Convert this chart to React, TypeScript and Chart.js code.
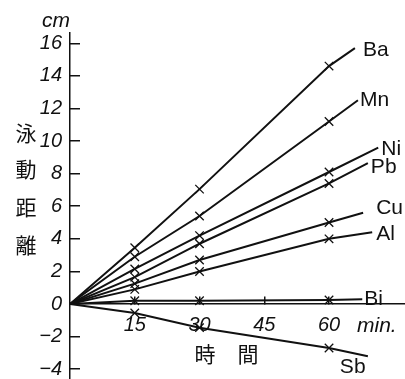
import React, { useEffect, useRef } from 'react';
import { Chart, registerables } from 'chart.js';

Chart.register(...registerables);

// ---- data ----
const elements = ['Ba', 'Mn', 'Ni', 'Pb', 'Cu', 'Al', 'Bi', 'Sb'];
const sampleTimes = [0, 15, 30, 60];
const baValues = [0, 3.45, 7.05, 14.6];
const mnValues = [0, 2.9, 5.4, 11.2];
const niValues = [0, 2.15, 4.2, 8.1];
const pbValues = [0, 1.65, 3.7, 7.4];
const cuValues = [0, 1.25, 2.7, 5.0];
const alValues = [0, 0.9, 2.0, 4.0];
const biValues = [0, 0.2, 0.2, 0.25];
const sbValues = [0, -0.55, -1.45, -2.7];
const seriesValues = [baValues, mnValues, niValues, pbValues, cuValues, alValues, biValues, sbValues];
// extension of each line past the last measurement
const lineEndTimes = [66, 66.7, 71.4, 69, 67.9, 70, 67.7, 69];
const lineEndValues = [15.7, 12.5, 9.6, 8.65, 5.6, 4.4, 0.3, -3.2];
const xTicks = [15, 30, 45, 60];
const yTicks = [-4, -2, 0, 2, 4, 6, 8, 10, 12, 14, 16];
const xUnit = 'min.';
const yUnit = 'cm';
const xTitle = ['時', '間'];
const yTitle = ['泳', '動', '距', '離'];

// ---- styling / layout (not data) ----
const ink = '#111';
const narrow = '"Liberation Sans Narrow", "Liberation Sans", sans-serif';
const cjk = '"Noto Sans CJK JP", "Noto Sans CJK SC", sans-serif';
const labelOffsets = [[8, 2], [2, 0], [3, 2], [3, 4], [13, -5], [4, 2], [2, 0], [-28, 11]];

const fmt = (v: number) => (v < 0 ? '\u2212' + Math.abs(v) : String(v));

const textPlugin = {
  id: 'textPlugin',
  afterDatasetsDraw(chart: any) {
    const ctx = chart.ctx;
    const area = chart.chartArea;
    const ys = chart.scales.y;
    ctx.save();
    ctx.fillStyle = ink;
    // element labels at line ends
    ctx.font = `21px ${narrow}`;
    ctx.textAlign = 'left';
    ctx.textBaseline = 'middle';
    elements.forEach((name, i) => {
      const meta = chart.getDatasetMeta(i);
      const last = meta.data[meta.data.length - 1];
      const [dx, dy] = labelOffsets[i];
      ctx.fillText(name, last.x + dx, last.y + dy);
    });
    // units
    ctx.font = `italic 21px ${narrow}`;
    ctx.textAlign = 'center';
    ctx.fillText(yUnit, area.left - 14, area.top - 12);
    const zeroY = ys.getPixelForValue(0);
    ctx.textAlign = 'left';
    ctx.fillText(xUnit, area.right - 48, zeroY + 22);
    // axis titles
    ctx.font = `21px ${cjk}`;
    ctx.textAlign = 'center';
    ctx.fillText(xTitle[0], area.left + 135, zeroY + 50);
    ctx.fillText(xTitle[1], area.left + 178, zeroY + 50);
    const yCenters = [133, 169, 207, 245];
    yTitle.forEach((ch, i) => ctx.fillText(ch, 26, yCenters[i]));
    ctx.restore();
  },
};

export default function App() {
  const ref = useRef<HTMLCanvasElement>(null);
  useEffect(() => {
    const canvas = ref.current;
    if (!canvas) return;
    const tickFont = { family: narrow, size: 20, style: 'italic' as const };
    const datasets = seriesValues.map((vals, i) => ({
      label: elements[i],
      data: [
        ...sampleTimes.map((t, j) => ({ x: t, y: vals[j] })),
        { x: lineEndTimes[i], y: lineEndValues[i] },
      ],
      borderColor: ink,
      borderWidth: 2,
      pointStyle: 'crossRot' as const,
      pointRadius: [0, 6, 6, 6, 0],
      pointBorderColor: ink,
      pointBorderWidth: 1.3,
      fill: false,
      tension: 0,
    }));
    const chart = new Chart(canvas, {
      type: 'line',
      data: { datasets },
      options: {
        animation: false,
        responsive: false,
        devicePixelRatio: 1,
        layout: { padding: { top: 33, left: 0, right: 0, bottom: 0 } },
        plugins: { legend: { display: false }, tooltip: { enabled: false } },
        scales: {
          x: {
            type: 'linear',
            position: { y: 0 } as any,
            min: 0,
            max: 77.6,
            afterBuildTicks: (s: any) => {
              s.ticks = xTicks.map((v) => ({ value: v }));
            },
            afterFit: (s: any) => {
              s.paddingLeft = 0;
              s.paddingRight = 0;
            },
            grid: { drawOnChartArea: false, drawTicks: true, tickLength: -8, color: ink, lineWidth: 1.5 },
            border: { display: true, color: ink, width: 1.5 },
            ticks: { padding: 17, autoSkip: false, maxRotation: 0, color: ink, font: tickFont, callback: (v: any) => fmt(Number(v)) },
          },
          y: {
            type: 'linear',
            position: 'left',
            min: -4.6,
            max: 16.63,
            afterBuildTicks: (s: any) => {
              s.ticks = yTicks.map((v) => ({ value: v }));
            },
            afterFit: (s: any) => {
              s.width = 70;
              s.paddingTop = 0;
              s.paddingBottom = 0;
            },
            grid: { drawOnChartArea: false, drawTicks: true, tickLength: -10, color: ink, lineWidth: 1.5 },
            border: { display: true, color: ink, width: 1.5 },
            ticks: { padding: 18, autoSkip: false, color: ink, font: tickFont, callback: (v: any) => fmt(Number(v)) },
          },
        },
      },
      plugins: [textPlugin],
    });
    return () => chart.destroy();
  }, []);
  return (
    <div style={{ position: 'fixed', left: 0, top: 0, width: 405, height: 379, background: '#fff' }}>
      <canvas ref={ref} width={405} height={379} />
    </div>
  );
}
